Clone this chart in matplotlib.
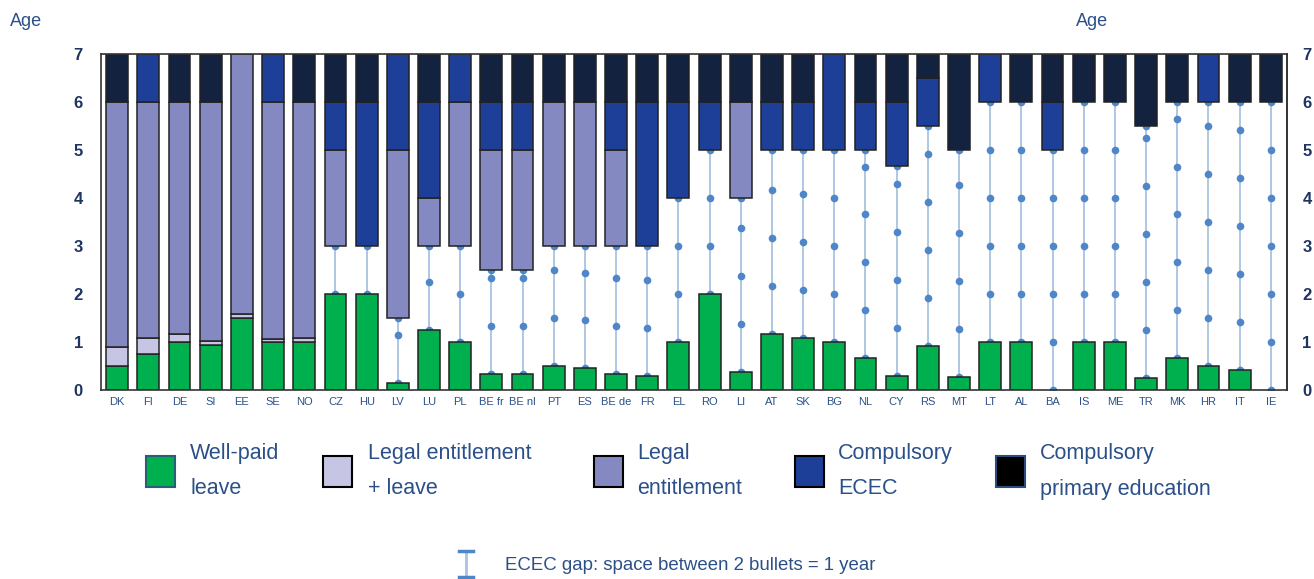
import numpy as np
import matplotlib
matplotlib.use("Agg")
import matplotlib.pyplot as plt
from matplotlib.patches import Rectangle
from matplotlib.lines import Line2D

nan = np.nan

countries = ["DK", "FI", "DE", "SI", "EE", "SE", "NO", "CZ", "HU", "LV", "LU", "PL",
             "BE fr", "BE nl", "PT", "ES", "BE de", "FR", "EL", "RO", "LI", "AT", "SK",
             "BG", "NL", "CY", "RS", "MT", "LT", "AL", "BA", "IS", "ME", "TR", "MK",
             "HR", "IT", "IE"]

# age at which well-paid leave ends (green from 0)
well_paid_end = [0.5, 0.75, 1.0, 0.93, 1.5, 1.0, 1.0, 2.0, 2.0, 0.15, 1.25, 1.0,
                 0.33, 0.33, 0.5, 0.45, 0.33, 0.3, 1.0, 2.0, 0.38, 1.16, 1.08,
                 1.0, 0.66, 0.3, 0.92, 0.28, 1.0, 1.0, 0.0, 1.0, 1.0, 0.25, 0.66,
                 0.5, 0.42, 0.0]
# legal entitlement + leave overlap ends (lavender)
ent_leave_end = [0.9, 1.08, 1.16, 1.02, 1.58, 1.06, 1.08] + [nan] * 31
# start of legal entitlement to ECEC
legal_start = [0.9, 1.08, 1.16, 1.02, 1.58, 1.06, 1.08, 3, nan, 1.5, 3, 3,
               2.5, 2.5, 3, 3, 3, nan, nan, nan, 4, nan, nan,
               nan, nan, nan, nan, nan, nan, nan, nan, nan, nan, nan, nan,
               nan, nan, nan]
# start of compulsory ECEC
ecec_start = [nan, 6, nan, nan, nan, 6, nan, 5, 3, 5, 4, 6,
              5, 5, nan, nan, 5, 3, 4, 5, nan, 5, 5,
              5, 5, 4.67, 5.5, nan, 6, nan, 5, nan, nan, nan, nan,
              6, nan, nan]
# start of compulsory primary education (7 = beyond chart)
primary_start = [6, 7, 6, 6, 7, 7, 6, 6, 6, 7, 6, 7,
                 6, 6, 6, 6, 6, 6, 6, 6, 6, 6, 6,
                 7, 6, 6, 6.5, 5, 7, 6, 6, 6, 6, 5.5, 6,
                 7, 6, 6]

legend_labels = [("Well-paid", "leave"), ("Legal entitlement", "+ leave"),
                 ("Legal", "entitlement"), ("Compulsory", "ECEC"),
                 ("Compulsory", "primary education")]

c_green = "#00b04f"
c_lav = "#c6c6e4"
c_legal = "#8589c2"
c_ecec = "#1e3f98"
c_prim = "#12223f"
c_txt = "#2b5089"
c_tick = "#1f3461"
edge = "#222222"

W, H = 1314, 579
fig = plt.figure(figsize=(W / 100, H / 100), dpi=100)
ax = fig.add_axes([101 / W, 1 - 390 / H, (1287 - 101) / W, (390 - 54.3) / H])

x = np.arange(len(countries))
bw = 0.7
well = np.array(well_paid_end, float)
lav = np.array(ent_leave_end, float)
leg = np.array(legal_start, float)
ece = np.array(ecec_start, float)
pri = np.array(primary_start, float)

legal_end = np.where(np.isnan(ece), pri, ece)
lav_h = np.where(np.isnan(lav), 0, lav - well)
leg_h = np.where(np.isnan(leg), 0, legal_end - leg)
ece_h = np.where(np.isnan(ece), 0, pri - ece)
pri_h = 7 - pri

kw = dict(width=bw, edgecolor=edge, linewidth=1.1, zorder=3)
m = well > 0
ax.bar(x[m], well[m], color=c_green, **kw)
m = lav_h > 0
ax.bar(x[m], lav_h[m], bottom=well[m], color=c_lav, **kw)
m = leg_h > 0
ax.bar(x[m], leg_h[m], bottom=leg[m], color=c_legal, **kw)
m = ece_h > 0
ax.bar(x[m], ece_h[m], bottom=ece[m], color=c_ecec, **kw)
m = pri_h > 0
ax.bar(x[m], pri_h[m], bottom=pri[m], color=c_prim, **kw)

# ECEC gap lines with one bullet per year
for i in range(len(countries)):
    lo = well[i] if np.isnan(lav[i]) else lav[i]
    tops = [v for v in (leg[i], ece[i], pri[i]) if not np.isnan(v)]
    hi = min(tops)
    if hi - lo < 0.05:
        continue
    ax.plot([x[i], x[i]], [lo, hi], color="#a9c3e2", lw=1.3, zorder=1)
    ys = list(np.arange(lo, hi - 0.05, 1.0)) + [hi]
    ax.plot([x[i]] * len(ys), ys, "o", color="#4f86c8", ms=5.5, mec="none",
            zorder=2)

ax.set_xlim(-0.52, len(countries) - 0.48)
ax.set_ylim(0, 7)
ax.set_yticks(range(8))
ax.set_xticks(x)
ax.set_xticklabels(countries, fontsize=8, color=c_txt, family="Liberation Sans")
ax.tick_params(axis="x", length=0, pad=5)
ax.tick_params(axis="y", length=0, pad=13, labelsize=12, labelcolor=c_tick)
for t in ax.get_yticklabels():
    t.set_fontweight("bold")
    t.set_family("Liberation Sans")

sec = ax.secondary_yaxis("right")
sec.set_yticks(range(8))
sec.tick_params(length=0, pad=11, labelsize=12, labelcolor=c_tick)
for t in sec.get_yticklabels():
    t.set_fontweight("bold")
    t.set_family("Liberation Sans")
sec.spines["right"].set_color("#333333")
sec.spines["right"].set_linewidth(1.2)

for side in ["left", "right", "top", "bottom"]:
    ax.spines[side].set_color("#333333")
    ax.spines[side].set_linewidth(1.2)
    ax.spines[side].set_zorder(5)

fig.text(10 / W, 1 - 21 / H, "Age", fontsize=13, color=c_txt,
         family="Liberation Sans", va="center", ha="left")
fig.text(1076 / W, 1 - 21 / H, "Age", fontsize=13, color=c_txt,
         family="Liberation Sans", va="center", ha="left")

# legend
lg_font = "Liberation Sans"
sq_x = [146, 323, 594, 795, 996]
tx_x = [190, 368, 637, 838, 1040]
fills = [c_green, c_lav, c_legal, c_ecec, "#000000"]
edges = ["#2a5f78", "#000000", "#000000", "#000000", "#2c4c7c"]
for sx, tx, fc, ec, (l1, l2) in zip(sq_x, tx_x, fills, edges, legend_labels):
    fig.add_artist(Rectangle((sx / W, 1 - 487 / H), 29 / W, 31 / H,
                             transform=fig.transFigure, facecolor=fc,
                             edgecolor=ec, linewidth=1.5))
    fig.text(tx / W, 1 - 453 / H, l1, fontsize=15.5, color=c_txt, family=lg_font,
             va="center", ha="left")
    fig.text(tx / W, 1 - 489 / H, l2, fontsize=15.5, color=c_txt, family=lg_font,
             va="center", ha="left")

# gap legend icon
fig.add_artist(Line2D([466 / W, 466 / W], [1 - 552 / H, 1 - 577 / H],
                      transform=fig.transFigure, color="#a9c3e2", lw=2))
for yy in (551, 577):
    fig.add_artist(Line2D([459 / W, 473 / W], [1 - yy / H, 1 - yy / H],
                          transform=fig.transFigure, color="#4f86c8", lw=2.5))
fig.text(505 / W, 1 - 566 / H, "ECEC gap: space between 2 bullets = 1 year",
         fontsize=13.4, color=c_txt, family=lg_font, va="center", ha="left")

fig.savefig("out.png", dpi=100)
